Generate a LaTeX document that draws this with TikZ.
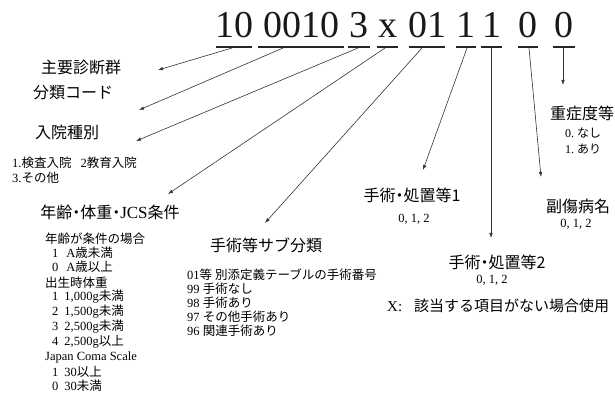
\documentclass[tikz,border=0pt]{standalone}
\usepackage{fontspec}
\setmainfont{Liberation Serif}
\newfontfamily\jp{Noto Sans CJK JP}
\newcommand\ndot{\hspace{-0.25em}・\hspace{-0.25em}}
\usetikzlibrary{arrows.meta}
\begin{document}
\begin{tikzpicture}[x=1pt,y=-1pt,
  code/.style={font=\fontsize{38}{38}\selectfont, inner sep=0, anchor=base, text=black!90},
  uline/.style={line width=2pt, draw=black!85},
  arr/.style={draw=black!80, line width=0.6pt, -{Latex[length=5pt,width=3.6pt]}},
  head/.style={font=\jp\fontsize{16}{16}\selectfont, inner sep=0},
  small/.style={font=\fontsize{12.5}{14}\selectfont, inner sep=0, anchor=west},
  nums/.style={font=\fontsize{12.5}{14}\selectfont, inner sep=0},
]
\useasboundingbox (0,0) rectangle (615,403);

% code digits
\node[code] (d1) at (234,38) {10};
\node[code] (d2) at (301,38) {0010};
\node[code] (d3) at (359,38) {3};
\node[code] (d4) at (387.5,38) {x};
\node[code] (d5) at (427,38) {01};
\node[code] (d6) at (466,38) {1};
\node[code] (d7) at (491.5,38) {1};
\node[code] (d8) at (528,38) {0};
\node[code] (d9) at (564,38) {0};

% underlines
\foreach \i/\a/\b in {1/216/252,2/258/344,3/348/370,4/377/398,5/409/445,6/456/476,7/481/502,8/518/538,9/553/575}{
  \coordinate (ua\i) at (\a,47);
  \coordinate (ub\i) at (\b,47);
  \draw[uline] (ua\i) -- (ub\i);
}

% arrow starts
\coordinate (s1) at (232,48);
\coordinate (s2) at (283,48);
\coordinate (s3) at (358,48);
\coordinate (s4) at (385,48);
\coordinate (s5) at (422,48);
\coordinate (s6) at (467,48);
\coordinate (s7) at (491,48);
\coordinate (s8) at (529,48);
\coordinate (s9) at (563,48);
% arrow tips
\coordinate (t1) at (158,70);
\coordinate (t2) at (139,110);
\coordinate (t3) at (136,141);
\coordinate (t4) at (168,194);
\coordinate (t5) at (265,223);
\coordinate (t6) at (423,170);
\coordinate (t7) at (491,238);
\coordinate (t8) at (541,177);
\coordinate (t9) at (563,85);
\foreach \i in {1,...,9}{\draw[arr] (s\i) -- (t\i);}

% left labels
\node[head] (l1) at (81,67) {主要診断群};
\node[head] (l2) at (73,93) {分類コード};
\node[head] (l3) at (67,132) {入院種別};
\node[small] (l3a) at (12,163) {1.{\jp 検査入院}\hspace{9pt}2{\jp 教育入院}};
\node[small] (l3b) at (12,178) {3.{\jp その他}};

\node[head] (l4) at (110,212) {年齢\ndot 体重\ndot{\fontsize{17}{17}\rmfamily JCS}条件};
\node[small] (a1) at (45,239) {\jp 年齢が条件の場合};
\node[small] (a2) at (52,253) {1\hspace{8pt}A{\jp 歳未満}};
\node[small] (a3) at (52,267) {0\hspace{8pt}A{\jp 歳以上}};
\node[small] (a4) at (45,283) {\jp 出生時体重};
\node[small] (a5) at (52,297) {1\hspace{6pt}1,000g{\jp 未満}};
\node[small] (a6) at (52,312) {2\hspace{6pt}1,500g{\jp 未満}};
\node[small] (a7) at (52,327) {3\hspace{6pt}2,500g{\jp 未満}};
\node[small] (a8) at (52,342) {4\hspace{6pt}2,500g{\jp 以上}};
\node[small] (a9) at (45,357) {Japan Coma Scale};
\node[small] (a10) at (52,372) {1\hspace{6pt}30{\jp 以上}};
\node[small] (a11) at (52,386) {0\hspace{6pt}30{\jp 未満}};

% middle
\node[head] (l5) at (266,245) {手術等サブ分類};
\node[small] (b1) at (187,275) {01{\jp 等 別添定義テーブルの手術番号}};
\node[small] (b2) at (187,289) {99 {\jp 手術なし}};
\node[small] (b3) at (187,303) {98 {\jp 手術あり}};
\node[small] (b4) at (187,317) {97 {\jp その他手術あり}};
\node[small] (b5) at (187,331) {96 {\jp 関連手術あり}};

% right
\node[head] (l6) at (412,195) {手術\ndot 処置等1};
\node[nums] (l6a) at (414,219) {0, 1, 2};
\node[head] (l7) at (497,262) {手術\ndot 処置等2};
\node[nums] (l7a) at (492,280) {0, 1, 2};
\node[head] (l8) at (578,206) {副傷病名};
\node[nums] (l8a) at (576,224) {0, 1, 2};
\node[head] (l9) at (582,113) {重症度等};
\node[small, font=\fontsize{12}{14}\selectfont] (l9a) at (565,133) {0.\ {\jp なし}};
\node[small, font=\fontsize{12}{14}\selectfont] (l9b) at (565,149) {1.\ {\jp あり}};

\node[small, font=\fontsize{15}{16}\selectfont] (x) at (387,306) {X:\hspace{12pt}{\jp 該当する項目がない場合使用}};
\end{tikzpicture}
\end{document}
